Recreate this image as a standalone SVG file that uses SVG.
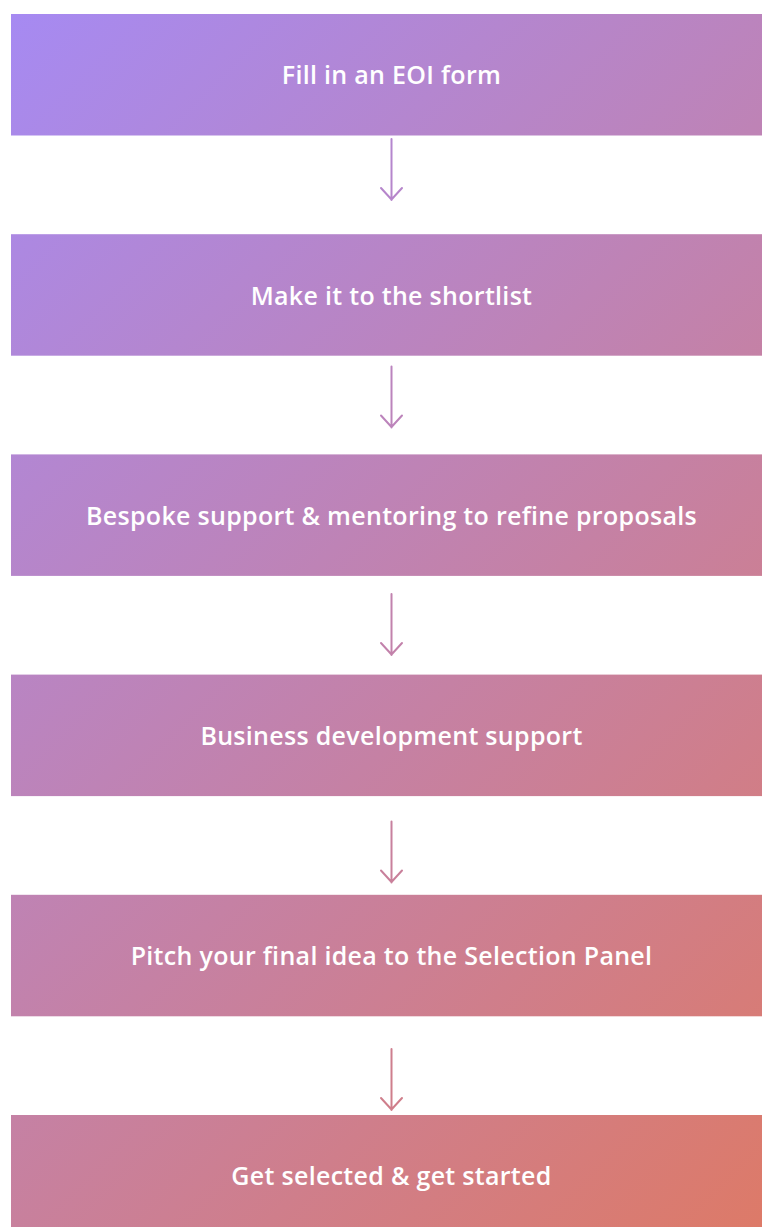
<svg xmlns="http://www.w3.org/2000/svg" width="762" height="1227" viewBox="0 0 762 1227">
<defs>
<linearGradient id="g" gradientUnits="userSpaceOnUse" x1="-104.5" y1="129.5" x2="877.5" y2="1111.5">
<stop offset="0" stop-color="#a68af2"/>
<stop offset="1" stop-color="#dd7a68"/>
</linearGradient>
<style>
.box{fill:url(#g);}
.lbl{font-family:"Open Sans","Noto Sans",sans-serif;font-size:25px;font-weight:600;fill:#ffffff;text-anchor:middle;letter-spacing:0.3px;}
.arr{fill:none;stroke:url(#g);stroke-width:2;stroke-linecap:round;stroke-linejoin:round;}
</style>
</defs>
<g id="n1"><rect class="box" x="11" y="14" width="761" height="121.5"/><text class="lbl" x="391.5" y="84.3">Fill in an EOI form</text></g>
<g id="n2"><rect class="box" x="11" y="234.2" width="761" height="121.5"/><text class="lbl" x="391.5" y="304.5">Make it to the shortlist</text></g>
<g id="n3"><rect class="box" x="11" y="454.4" width="761" height="121.5"/><text class="lbl" x="391.5" y="524.7">Bespoke support &amp; mentoring to refine proposals</text></g>
<g id="n4"><rect class="box" x="11" y="674.6" width="761" height="121.5"/><text class="lbl" x="391.5" y="744.9">Business development support</text></g>
<g id="n5"><rect class="box" x="11" y="894.8" width="761" height="121.5"/><text class="lbl" x="391.5" y="965.1">Pitch your final idea to the Selection Panel</text></g>
<g id="n6"><rect class="box" x="11" y="1115" width="761" height="121.5"/><text class="lbl" x="391.5" y="1185.3">Get selected &amp; get started</text></g>
<g id="connectors">
<path class="arr" d="M391.5,139 V200 M381,188 L391.5,199.5 L402,188"/>
<path class="arr" d="M391.5,366.5 V427.5 M381,415.5 L391.5,427 L402,415.5"/>
<path class="arr" d="M391.5,594 V655 M381,643 L391.5,654.5 L402,643"/>
<path class="arr" d="M391.5,821.5 V882.5 M381,870.5 L391.5,882 L402,870.5"/>
<path class="arr" d="M391.5,1049 V1110 M381,1098 L391.5,1109.5 L402,1098"/>
</g>
</svg>
